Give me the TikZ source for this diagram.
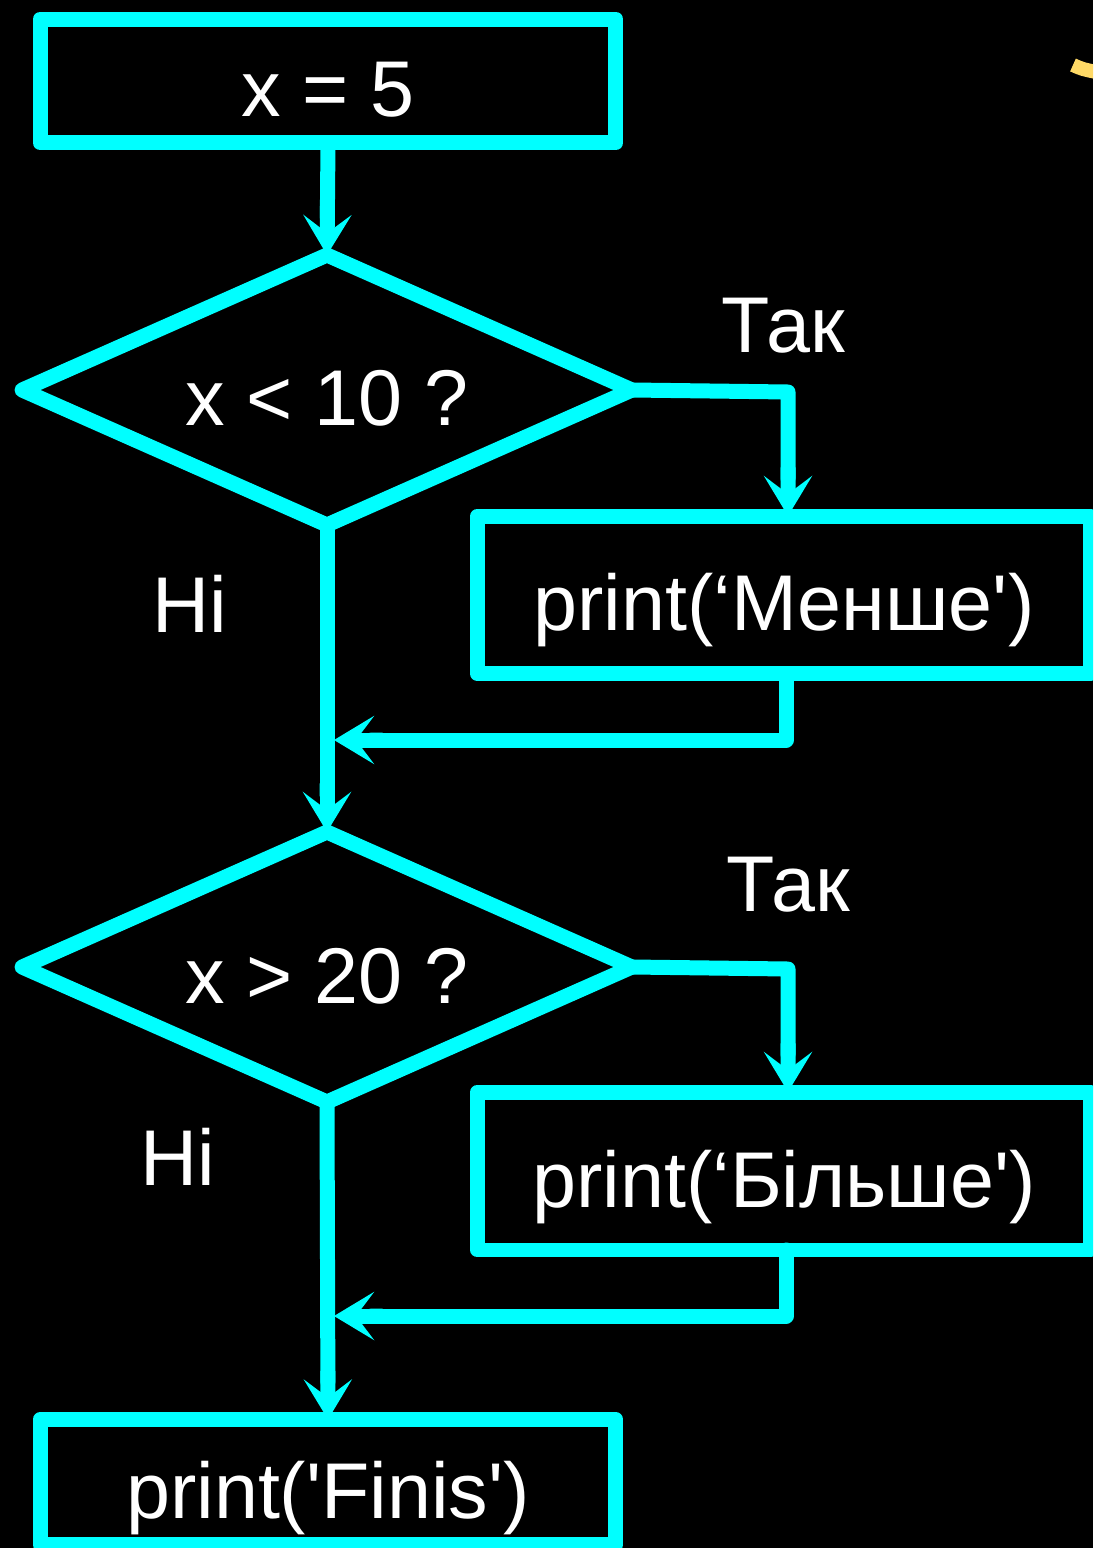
\documentclass[tikz,border=0pt]{standalone}
\usepackage{fontspec}
\newfontfamily\flowfont{Liberation Sans}
\usetikzlibrary{arrows.meta, positioning, shapes.geometric}
\definecolor{flowcyan}{RGB}{0,255,255}
\definecolor{flowyellow}{RGB}{255,217,102}

\begin{document}
\begin{tikzpicture}[x=0.02cm, y=-0.02cm, line width=0.3cm, line cap=round, line join=round,
  >={Round Cap[sep=-0.2cm 0] Stealth[length=0.8cm 0, width=0.96cm 0, inset=0.36cm 0]},
  font=\flowfont\fontsize{45}{54}\selectfont, text=white]
\tikzstyle{block}=[draw=flowcyan, rectangle, inner sep=0pt, outer sep=0pt, text height=1.44cm, text depth=0pt]
\tikzstyle{test}=[draw=flowcyan, diamond, aspect=2.26, inner sep=0pt, outer sep=0pt, minimum width=12.2cm, minimum height=5.4cm, text height=1.44cm, text depth=0pt]
\tikzstyle{flow}=[draw=flowcyan]

\useasboundingbox (0,0) rectangle (1093,1548);
\clip (0,0) rectangle (1093,1548);
\fill[black] (0,0) rectangle (1093,1548);
\draw[flowyellow, line width=0.28cm, line cap=butt] (1073,65) .. controls (1082,69) .. (1096,72);

\node[block, minimum width=11.52cm, minimum height=2.48cm] (init) at (328,81) {x = 5};
\node[test] (less) at (327,390) {x < 10 ?};
\node[block, minimum width=12.26cm, minimum height=3.16cm] (small) at (784,595) {print(‘Менше\textquotesingle)};
\node[test] (more) at (327,967) {x > 20 ?};
\node[block, minimum width=12.26cm, minimum height=3.16cm] (big) at (784,1171) {print(‘Більше\textquotesingle)};
\node[block, minimum width=11.52cm, minimum height=2.5cm] (finis) at (328,1482) {print(\textquotesingle Finis\textquotesingle)};

\node (yes1) at (783,326) {Так};
\node (no1) at (190,604) {Ні};
\node (yes2) at (788,885) {Так};
\node (no2) at (178,1157) {Ні};

\coordinate (r1) at (788,392);
\coordinate (m1) at (786,740);
\coordinate (j1) at (334,740);
\coordinate (r2) at (788,969);
\coordinate (m2) at (786,1316);
\coordinate (j2) at (334,1316);

\draw[flow, ->] (init.south) -- (less.north);
\draw[flow, ->] (less.east) -- (r1) -- (r1 |- small.north);
\draw[flow, ->] (m1 |- small.south) -- (m1) -- (j1);
\draw[flow, ->] (less.south) -- (more.north);
\draw[flow, ->] (more.east) -- (r2) -- (r2 |- big.north);
\draw[flow, ->] (m2 |- big.south) -- (m2) -- (j2);
\draw[flow, ->] (more.south) -- (finis.north);
\end{tikzpicture}
\end{document}
